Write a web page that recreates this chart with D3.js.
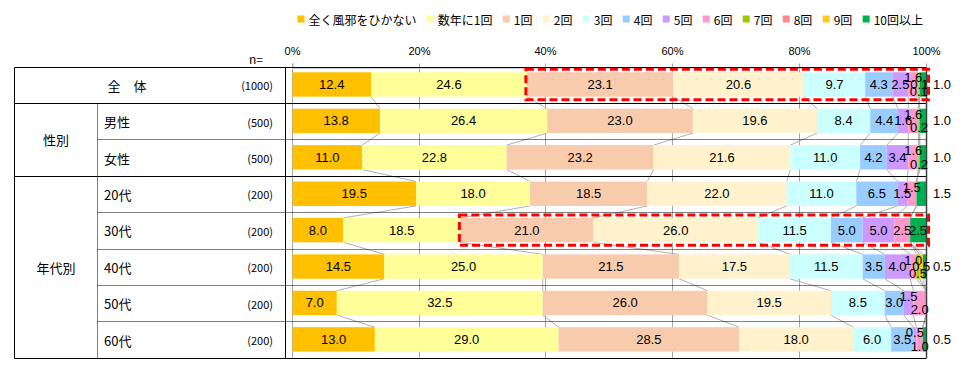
<!DOCTYPE html>
<html><head><meta charset="utf-8">
<script src="https://cdn.jsdelivr.net/npm/d3@7"></script>
<style>
body{margin:0;background:#fff;}
svg{display:block;font-family:"Liberation Sans","Noto Sans CJK JP",sans-serif;}
</style>
</head><body>
<svg id="chart" width="966" height="368"></svg>
<script>
// ---------- data ----------
const seriesNames = ["全く風邪をひかない","数年に1回","1回","2回","3回","4回","5回","6回","7回","8回","9回","10回以上"];
const seriesColors = ["#FFC000","#FFFF99","#F8CBAD","#FFF2CC","#CCFFFF","#99CCFF","#CC99FF","#FF99CC","#99CC00","#FF7C80","#FFC000","#00B050"];
const rowLabels = ["全　体","男性","女性","20代","30代","40代","50代","60代"];
const rowN = ["(1000)","(500)","(500)","(200)","(200)","(200)","(200)","(200)"];
const groupLabels = ["性別","年代別"];
const groupRows = [[1,2],[3,7]];
const tickValues = [0,20,40,60,80,100];

const valsTotal  = [12.4,24.6,23.1,20.6, 9.7,4.3,2.5,1.6,0.1,0.0,0.1,1.0];
const valsMale   = [13.8,26.4,23.0,19.6, 8.4,4.4,1.6,1.6,0.2,0.0,0.0,1.0];
const valsFemale = [11.0,22.8,23.2,21.6,11.0,4.2,3.4,1.6,0.2,0.0,0.0,1.0];
const vals20s    = [19.5,18.0,18.5,22.0,11.0,6.5,1.5,1.5,0.0,0.0,0.0,1.5];
const vals30s    = [ 8.0,18.5,21.0,26.0,11.5,5.0,5.0,2.5,0.0,0.0,0.0,2.5];
const vals40s    = [14.5,25.0,21.5,17.5,11.5,3.5,4.0,1.0,0.5,0.0,0.5,0.5];
const vals50s    = [ 7.0,32.5,26.0,19.5, 8.5,3.0,1.5,2.0,0.0,0.0,0.0,0.0];
const vals60s    = [13.0,29.0,28.5,18.0, 6.0,3.5,0.5,1.0,0.0,0.0,0.0,0.5];
const rowValues = [valsTotal,valsMale,valsFemale,vals20s,vals30s,vals40s,vals50s,vals60s];

const highlightRows = [0,4];
const highlightFromSeries = 2;

// ---------- layout ----------
const svg = d3.select("#chart");
const W = 966;
const tableLeft = 14.5, catDivX = 97.5, tableRight = 285.5, plotRight = 926;
const topY = 67, bottomY = 358.3;

const x = d3.scaleLinear().domain([0,100]).range([292.5, 926]);
const y = d3.scaleBand().domain(d3.range(rowLabels.length)).range([topY, bottomY])
  .paddingInner(0.33).paddingOuter(0.165).align(0.44);
const step = (bottomY - topY) / rowLabels.length;
const rowTop = i => topY + i*step;
const crisp = v => Math.round(v - 0.5) + 0.5;

const defs = svg.append("defs");
function dotPattern(id, base, dot){
  const p = defs.append("pattern").attr("id",id).attr("patternUnits","userSpaceOnUse").attr("width",3).attr("height",3);
  p.append("rect").attr("width",3).attr("height",3).attr("fill",base);
  p.append("rect").attr("x",0).attr("y",0).attr("width",1).attr("height",1).attr("fill",dot);
  p.append("rect").attr("x",1.5).attr("y",1.5).attr("width",1).attr("height",1).attr("fill",dot);
}
dotPattern("pat8","#FF7C80","#FFB3B5");
dotPattern("pat9","#FFC000","#FFE080");
const fillFor = k => k===9 ? "url(#pat8)" : (k===10 ? "url(#pat9)" : seriesColors[k]);

// ---------- legend ----------
const legendFont = '12px "Noto Sans CJK JP"';
const cv = document.createElement("canvas").getContext("2d");
function measure(t, font){ cv.font = font; return cv.measureText(t).width; }
const legStart = 297.5, legEnd = 923, sq = 7, sqGap = 4;
const legWidths = seriesNames.map(s => measure(s, legendFont));
const legTotal = d3.sum(legWidths) + seriesNames.length*(sq+sqGap);
const legGap = (legEnd - legStart - legTotal) / (seriesNames.length - 1);
let lx = legStart;
const legend = svg.append("g");
seriesNames.forEach((s,k)=>{
  legend.append("rect").attr("x",lx).attr("y",15.5).attr("width",sq).attr("height",sq).attr("fill",fillFor(k));
  legend.append("text").attr("x",lx+sq+sqGap).attr("y",19).attr("dominant-baseline","central")
    .attr("font-family",'"Noto Sans CJK JP"').attr("font-size",12).attr("fill","#000").text(s);
  lx += sq + sqGap + legWidths[k] + legGap;
});

// ---------- axis & grid ----------
const grid = svg.append("g");
tickValues.forEach(t=>{
  if (t===100) return;
  grid.append("line").attr("x1",crisp(x(t))).attr("x2",crisp(x(t))).attr("y1",topY).attr("y2",bottomY)
    .attr("stroke","#A6A6A6").attr("stroke-width",1);
});
const axis = d3.axisTop(x).tickValues(tickValues).tickFormat(d=>d+"%").tickSize(4).tickPadding(8.5);
const axG = svg.append("g").attr("transform",`translate(0,${crisp(topY)})`).call(axis);
axG.select(".domain").attr("stroke","#A6A6A6");
axG.selectAll(".tick line").attr("stroke","#A6A6A6");
axG.selectAll(".tick text").attr("font-size",11).attr("fill","#000").attr("font-family",'"Liberation Sans"');
axG.selectAll(".tick").attr("transform", d=>`translate(${crisp(x(d))},0)`);

// ---------- series lines ----------
const cums = rowValues.map(vs => { let c=0; return vs.map(v => (c+=v)); });
const sl = svg.append("g");
for (let i=0;i<rowValues.length-1;i++){
  for (let k=0;k<seriesNames.length-1;k++){
    sl.append("line")
      .attr("x1",x(cums[i][k])).attr("y1",y(i)+y.bandwidth())
      .attr("x2",x(cums[i+1][k])).attr("y2",y(i+1))
      .attr("stroke","#B0B0B0").attr("stroke-width",1);
  }
}

// ---------- bars ----------
const bars = svg.append("g");
rowValues.forEach((vs,i)=>{
  let c = 0;
  vs.forEach((v,k)=>{
    const x0 = x(c); c += v;
    if (v<=0) return;
    bars.append("rect").attr("x",x0).attr("y",y(i)).attr("width",x(c)-x0).attr("height",y.bandwidth())
      .attr("fill",fillFor(k));
  });
});

// ---------- table lines ----------
const tbl = svg.append("g").attr("fill","none");
[0,1,3,8].forEach(i=>{
  tbl.append("line").attr("x1",tableLeft).attr("x2",plotRight).attr("y1",crisp(rowTop(i))).attr("y2",crisp(rowTop(i)))
    .attr("stroke","#000").attr("stroke-width",1);
});
[2,4,5,6,7].forEach(i=>{
  tbl.append("line").attr("x1",catDivX).attr("x2",plotRight).attr("y1",crisp(rowTop(i))).attr("y2",crisp(rowTop(i)))
    .attr("stroke","#000").attr("stroke-width",1).attr("stroke-dasharray","1,1");
});
tbl.append("line").attr("x1",tableLeft).attr("x2",tableLeft).attr("y1",crisp(topY)).attr("y2",crisp(bottomY)).attr("stroke","#000");
tbl.append("line").attr("x1",tableRight).attr("x2",tableRight).attr("y1",crisp(topY)).attr("y2",crisp(bottomY)).attr("stroke","#000");
tbl.append("line").attr("x1",catDivX).attr("x2",catDivX).attr("y1",crisp(rowTop(1))).attr("y2",crisp(bottomY))
  .attr("stroke","#000").attr("stroke-dasharray","1,1");
tbl.append("line").attr("x1",plotRight+0.5).attr("x2",plotRight+0.5).attr("y1",crisp(topY)).attr("y2",crisp(bottomY))
  .attr("stroke","#404040").attr("stroke-width",1.5);

// ---------- table text ----------
const tt = svg.append("g").attr("font-family",'"Noto Sans CJK JP"').attr("fill","#000");
tt.append("text").attr("x",249).attr("y",64).attr("font-size",12).text("n=");
rowLabels.forEach((lab,i)=>{
  const yc = rowTop(i) + step/2;
  if (i===0) {
    tt.append("text").attr("x",127).attr("y",yc).attr("text-anchor","middle").attr("dominant-baseline","central")
      .attr("font-size",13).text(lab);
  } else {
    tt.append("text").attr("x",104).attr("y",yc).attr("dominant-baseline","central").attr("font-size",13).text(lab);
  }
  tt.append("text").attr("x",273).attr("y",yc).attr("text-anchor","end").attr("dominant-baseline","central")
    .attr("font-size",11).text(rowN[i]);
});
groupLabels.forEach((g,j)=>{
  const [a,b] = groupRows[j];
  const yc = (rowTop(a) + rowTop(b+1))/2;
  tt.append("text").attr("x",(tableLeft+catDivX)/2).attr("y",yc).attr("text-anchor","middle")
    .attr("dominant-baseline","central").attr("font-size",13).text(g);
});

// ---------- data labels ----------
const labelFont = '13px "Liberation Sans"';
const fmt = d3.format(".1f");
const offs = {mid:0, up:-6.5, low:7};
const tol = 1.5;
const lbl = svg.append("g").attr("font-family",'"Liberation Sans"').attr("font-size",13).attr("fill","#000");
rowValues.forEach((vs,i)=>{
  const yc = y(i) + y.bandwidth()/2;
  const placed = [];
  let c = 0;
  vs.forEach((v,k)=>{
    const x0 = x(c); c += v; const x1 = x(c);
    if (v<=0) return;
    const txt = fmt(v), w = measure(txt, labelFont), cx = (x0+x1)/2;
    const last = k===vs.length-1;
    if (last && (x1-x0) < 12) {
      lbl.append("text").attr("x",x(100)+7).attr("y",yc).attr("dominant-baseline","central").text(txt);
      return;
    }
    let level = 'mid';
    if (!last) {
      const prev = placed[placed.length-1];
      let order = ['mid','up','low'];
      if (prev && prev.r - tol > cx - w/2 && prev.level==='up') order = ['low','mid','up'];
      level = order.find(L => !placed.some(p => p.level===L && p.r - tol > cx - w/2 && p.l + tol < cx + w/2)) || order[0];
    }
    placed.push({l:cx-w/2, r:cx+w/2, level});
    lbl.append("text").attr("x",cx).attr("y",yc+offs[level]).attr("text-anchor","middle")
      .attr("dominant-baseline","central").text(txt);
  });
});

// ---------- highlight boxes ----------
highlightRows.forEach(i=>{
  const start = highlightFromSeries===0 ? 0 : cums[i][highlightFromSeries-1];
  const x0 = x(start) - 1, x1 = x(100) + 2.5;
  svg.append("rect").attr("x",x0).attr("y",y(i)-3).attr("width",x1-x0).attr("height",y.bandwidth()+6)
    .attr("fill","none").attr("stroke","#FF0000").attr("stroke-width",3).attr("stroke-dasharray","8,4");
});
</script>
</body></html>
